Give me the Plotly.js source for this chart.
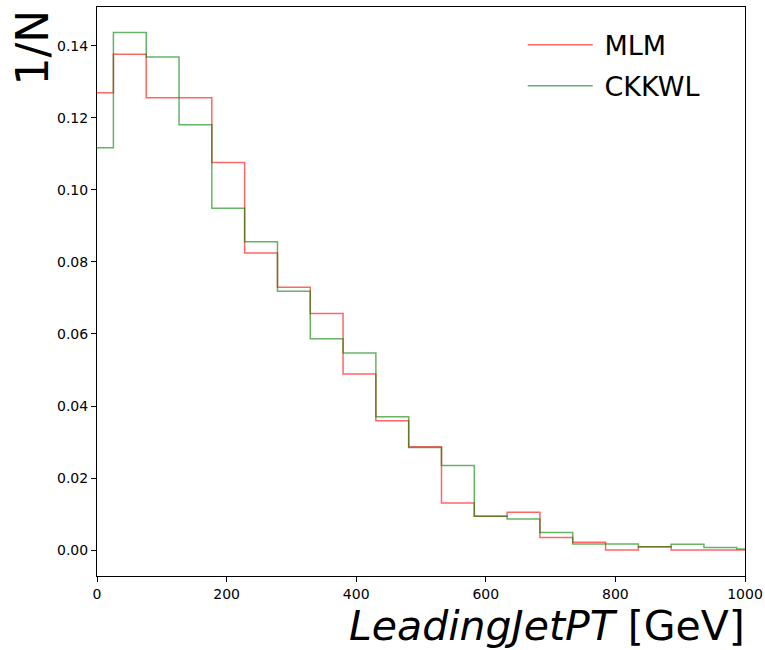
<!DOCTYPE html>
<html>
<head>
<meta charset="utf-8">
<script src="https://cdn.plot.ly/plotly-3.0.1.min.js"></script>
<style>
  html, body { margin: 0; padding: 0; background: #ffffff; }
  #chart { width: 765px; height: 650px; }
</style>
</head>
<body>
<div id="chart"></div>
<script>
// Bin centres of the leading-jet pT histogram (GeV)
const binCenters = [0, 50.6, 101.3, 151.9, 202.5, 253.2, 303.8, 354.4, 405.0,
                    455.7, 506.3, 556.9, 607.6, 658.2, 708.8, 759.5, 810.1,
                    860.7, 911.3, 962.0, 1012.6];

// Normalised bin contents per matching scheme
const mlmValues = [0.1270, 0.1377, 0.1256, 0.1256, 0.1076, 0.0825, 0.0730,
                   0.0657, 0.0489, 0.0359, 0.0287, 0.0131, 0.0094, 0.0105,
                   0.0035, 0.0022, 0.0000, 0.0009, 0.0000, 0.0000, 0.0000];
const ckkwlValues = [0.1117, 0.1437, 0.1369, 0.1181, 0.0949, 0.0856, 0.0719,
                     0.0587, 0.0547, 0.0370, 0.0285, 0.0235, 0.0094, 0.0086,
                     0.0049, 0.0017, 0.0017, 0.0009, 0.0016, 0.0007, 0.0003];

const seriesNames = ['MLM', 'CKKWL'];
const xTickVals = [0, 200, 400, 600, 800, 1000];

const FONT = 'DejaVu Sans, Verdana, sans-serif';
// small lead-in so the legend labels sit a little further from their line samples
const LEGEND_GAP = '\u2005';

// Step outlines: 'hvh' puts each riser halfway between bin centres, i.e. on the bin edges
const traces = [
  {
    x: binCenters, y: mlmValues, name: LEGEND_GAP + seriesNames[0],
    type: 'scatter', mode: 'lines',
    line: { shape: 'hvh', color: 'rgba(255,0,0,0.6)', width: 1.5 },
    legendgroup: 'a'
  },
  {
    x: binCenters, y: ckkwlValues, name: LEGEND_GAP + seriesNames[1],
    type: 'scatter', mode: 'lines',
    line: { shape: 'hvh', color: 'rgba(0,128,0,0.6)', width: 1.5 },
    legendgroup: 'b'
  }
];

const layout = {
  width: 765,
  height: 650,
  margin: { l: 97, r: 20, t: 7, b: 74, pad: 0 },
  paper_bgcolor: '#ffffff',
  plot_bgcolor: '#ffffff',
  font: { family: FONT, color: '#000000', size: 14 },
  showlegend: true,
  legend: {
    x: 0.657, y: 0.976, xanchor: 'left', yanchor: 'top',
    bgcolor: 'rgba(255,255,255,0)',
    font: { family: FONT, size: 27, color: '#000000' },
    itemwidth: 65,
    traceorder: 'grouped',
    tracegroupgap: 3
  },
  xaxis: {
    range: [0, 1000],
    tickmode: 'array',
    tickvals: xTickVals,
    ticks: 'outside', ticklen: 5, tickwidth: 1, tickcolor: '#000000',
    showline: true, linecolor: '#000000', linewidth: 1, mirror: true,
    showgrid: false, zeroline: false,
    tickfont: { family: FONT, size: 14, color: '#000000' }
  },
  yaxis: {
    range: [-0.0072, 0.1508],
    tick0: 0, dtick: 0.02, tickformat: '.2f',
    ticks: 'outside', ticklen: 5, tickwidth: 1, tickcolor: '#000000',
    showline: true, linecolor: '#000000', linewidth: 1, mirror: true,
    showgrid: false, zeroline: false,
    tickfont: { family: FONT, size: 14, color: '#000000' }
  },
  annotations: [
    {
      // y-axis label, aligned to the top of the axis
      text: '1/N',
      xref: 'paper', yref: 'paper',
      x: -0.1, y: 0.929,
      xanchor: 'center', yanchor: 'middle',
      textangle: -90,
      showarrow: false,
      font: { family: FONT, size: 44, color: '#000000' }
    },
    {
      // x-axis label, aligned to the right end of the axis
      text: '<i>LeadingJetPT</i> [GeV]',
      xref: 'paper', yref: 'paper',
      x: 1.003, y: -0.088,
      xanchor: 'right', yanchor: 'middle',
      showarrow: false,
      font: { family: FONT, size: 41, color: '#000000' }
    }
  ]
};

Plotly.newPlot('chart', traces, layout, { displayModeBar: false, staticPlot: true });
</script>
</body>
</html>
